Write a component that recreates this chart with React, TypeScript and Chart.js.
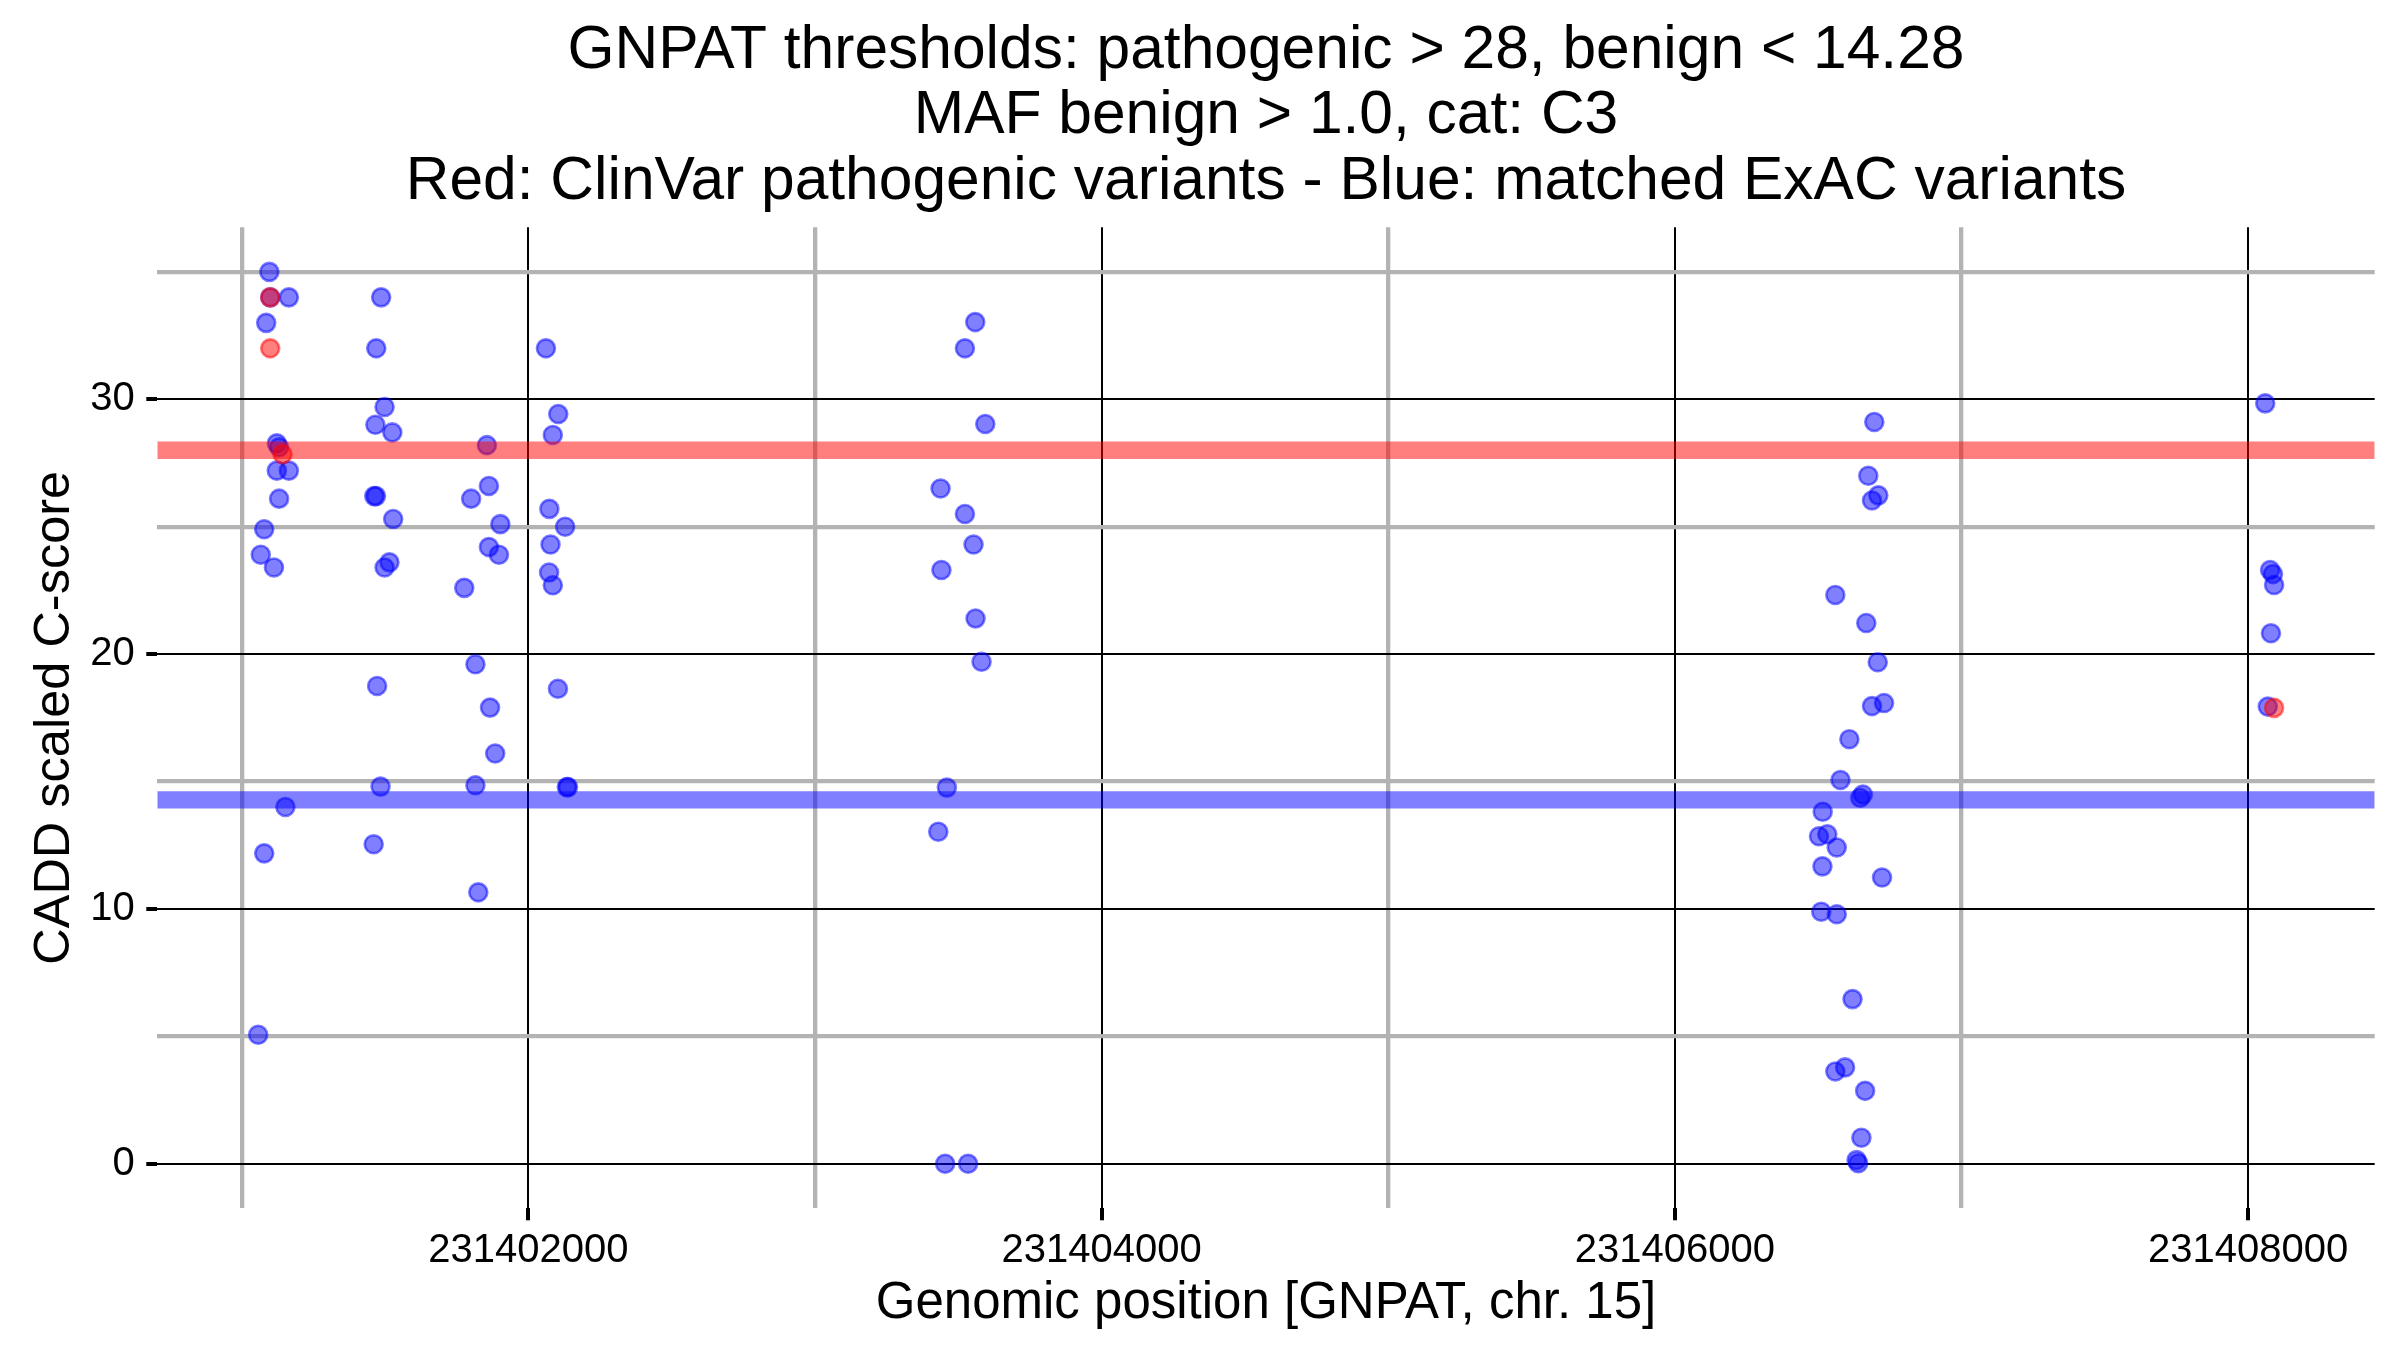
import React, { useEffect, useRef } from "react";
import { Chart, registerables } from "chart.js";

Chart.register(...registerables);

// ---- Data ----
const titleLines = [
  "GNPAT thresholds: pathogenic > 28, benign < 14.28",
  "MAF benign > 1.0, cat: C3",
  "Red: ClinVar pathogenic variants - Blue: matched ExAC variants",
];
const xAxisTitle = "Genomic position [GNPAT, chr. 15]";
const yAxisTitle = "CADD scaled C-score";

const pathogenicThreshold = 28;
const benignThreshold = 14.28;

// Blue: matched ExAC variants
const exacPos = [
  231401096, 231401099, 231401164, 231401085, 231401122, 231401130, 231401122, 231401164,
  231401130, 231401078, 231401066, 231401112, 231401152, 231401078, 231401057,
  231401486, 231401469, 231401498, 231401466, 231401525, 231401462, 231401468, 231401528,
  231401515, 231401498, 231401472, 231401484, 231401460,
  231401855, 231401862, 231401800, 231401902, 231401862, 231401897, 231401776, 231401815,
  231401866, 231401884, 231401815, 231401825,
  231402061, 231402104, 231402085, 231402073, 231402128, 231402077, 231402072, 231402085,
  231402103, 231402134, 231402138,
  231403559, 231403523, 231403594, 231403438, 231403523, 231403553, 231403441, 231403560,
  231403581, 231403460, 231403430, 231403454, 231403534,
  231406696, 231406675, 231406710, 231406688, 231406560, 231406668, 231406708, 231406688,
  231406730, 231406609, 231406578, 231406647, 231406656, 231406516, 231406503, 231406532,
  231406565, 231406515, 231406723, 231406511, 231406565, 231406620, 231406560, 231406594,
  231406664, 231406651, 231406634, 231406640,
  231408060, 231408077, 231408087, 231408091, 231408080, 231408069,
];
const exacScore = [
  35.0, 34.0, 34.0, 33.0, 28.27, 28.12, 27.2, 27.2,
  26.1, 24.9, 23.9, 23.4, 14.0, 12.18, 5.06,
  34.0, 32.0, 29.7, 29.0, 28.7, 26.2, 26.2, 25.3,
  23.6, 23.4, 18.75, 14.8, 12.54,
  28.2, 26.6, 26.1, 25.1, 24.2, 23.9, 22.6, 19.6,
  17.9, 16.1, 14.85, 10.65,
  32.0, 29.42, 28.6, 25.7, 25.0, 24.3, 23.2, 22.7,
  18.64, 14.78, 14.78,
  33.03, 32.0, 29.03, 26.5, 25.5, 24.3, 23.3, 21.4,
  19.7, 14.76, 13.03, 0.0, 0.0,
  29.11, 27.0, 26.23, 26.03, 22.32, 21.22, 19.68, 17.96,
  18.08, 16.66, 15.06, 14.36, 14.49, 13.81, 12.85, 12.93,
  12.41, 11.67, 11.23, 9.89, 9.79, 6.46, 3.62, 3.78,
  2.86, 1.02, 0.14, 0.02,
  29.84, 23.3, 23.14, 22.71, 20.82, 17.94,
];

// Red: ClinVar pathogenic variants
const clinvarPos = [231401099, 231401099, 231401142, 231408091];
const clinvarScore = [34.0, 32.0, 27.84, 17.89];

// Axes
const xLimits = [231400705, 231408442];
const yLimits = [-1.75, 36.75];
const xTicks = [231401000, 231402000, 231403000, 231404000, 231405000, 231406000, 231407000, 231408000];
const xMajorTicks = [231402000, 231404000, 231406000, 231408000];
const yTicks = [0, 5, 10, 15, 20, 25, 30, 35];
const yMajorTicks = [0, 10, 20, 30];

const FONT = "'Liberation Sans', Arial, Helvetica, sans-serif";

function gridOptions(major: number[], tickLength: number) {
  const isMajor = (ctx: any) => ctx && ctx.tick && major.includes(ctx.tick.value);
  return {
    display: true,
    drawOnChartArea: true,
    drawTicks: true,
    color: (ctx: any) => (isMajor(ctx) ? "#000000" : "#b3b3b3"),
    lineWidth: (ctx: any) => (isMajor(ctx) ? 2 : 4.3),
    tickColor: (ctx: any) => (isMajor(ctx) ? "#000000" : "rgba(0,0,0,0)"),
    tickWidth: 4,
    tickLength,
  };
}

export default function App() {
  const canvasRef = useRef<HTMLCanvasElement | null>(null);

  useEffect(() => {
    if (!canvasRef.current) return;
    const exacData = exacPos.map((x, i) => ({ x, y: exacScore[i] }));
    const clinvarData = clinvarPos.map((x, i) => ({ x, y: clinvarScore[i] }));
    const pathLine = [
      { x: xLimits[0], y: pathogenicThreshold },
      { x: xLimits[1], y: pathogenicThreshold },
    ];
    const benignLine = [
      { x: xLimits[0], y: benignThreshold },
      { x: xLimits[1], y: benignThreshold },
    ];

    const chart = new Chart(canvasRef.current, {
      type: "scatter",
      data: {
        datasets: [
          {
            type: "line",
            label: "pathogenic threshold",
            data: pathLine,
            borderColor: "rgba(255,0,0,0.5)",
            backgroundColor: "rgba(255,0,0,0.5)",
            borderWidth: 17.3,
            pointRadius: 0,
            fill: false,
            order: 0,
          } as any,
          {
            type: "line",
            label: "benign threshold",
            data: benignLine,
            borderColor: "rgba(0,0,255,0.5)",
            backgroundColor: "rgba(0,0,255,0.5)",
            borderWidth: 17.3,
            pointRadius: 0,
            fill: false,
            order: 0,
          } as any,
          {
            label: "ClinVar pathogenic variants",
            data: clinvarData,
            backgroundColor: "rgba(255,0,0,0.5)",
            borderColor: "rgba(255,0,0,0.5)",
            borderWidth: 2.6,
            pointRadius: 9,
            pointHoverRadius: 9,
            order: 1,
          },
          {
            label: "matched ExAC variants",
            data: exacData,
            backgroundColor: "rgba(0,0,255,0.5)",
            borderColor: "rgba(0,0,255,0.5)",
            borderWidth: 2.6,
            pointRadius: 9,
            pointHoverRadius: 9,
            order: 2,
          },
        ],
      },
      options: {
        animation: false,
        responsive: true,
        maintainAspectRatio: false,
        devicePixelRatio: 1,
        events: [],
        layout: { padding: { top: 18.5, left: 0, right: 25.3, bottom: 0 } },
        plugins: {
          legend: { display: false },
          tooltip: { enabled: false },
          title: {
            display: true,
            text: titleLines,
            fullSize: false,
            color: "#000000",
            font: { family: FONT, size: 60.5, weight: "normal", lineHeight: "65.5px" },
            padding: { top: 0, bottom: 12.3 },
          },
        },
        scales: {
          x: {
            type: "linear",
            min: xLimits[0],
            max: xLimits[1],
            afterBuildTicks: (s: any) => {
              s.ticks = xTicks.map((v) => ({ value: v }));
            },
            afterFit: (s: any) => {
              s.height = 141.7;
            },
            border: { display: false },
            grid: gridOptions(xMajorTicks, 12) as any,
            ticks: {
              autoSkip: false,
              maxRotation: 0,
              minRotation: 0,
              padding: 7,
              color: "#000000",
              font: { family: FONT, size: 40 },
              callback: (v: any) => (xMajorTicks.includes(Number(v)) ? String(v) : ""),
            },
            title: {
              display: true,
              text: xAxisTitle,
              color: "#000000",
              font: { family: FONT, size: 51 },
              padding: { top: 0, bottom: 15 },
            },
          },
          y: {
            type: "linear",
            min: yLimits[0],
            max: yLimits[1],
            afterBuildTicks: (s: any) => {
              s.ticks = yTicks.map((v) => ({ value: v }));
            },
            afterFit: (s: any) => {
              s.width = 157.3;
            },
            border: { display: false },
            grid: gridOptions(yMajorTicks, 11) as any,
            ticks: {
              autoSkip: false,
              padding: 11.5,
              color: "#000000",
              font: { family: FONT, size: 40 },
              callback: (v: any) => (yMajorTicks.includes(Number(v)) ? String(v) : ""),
            },
            title: {
              display: true,
              text: yAxisTitle,
              color: "#000000",
              font: { family: FONT, size: 50.5 },
              padding: { top: 25, bottom: 0 },
            },
          },
        },
      },
    });
    return () => chart.destroy();
  }, []);

  return (
    <div style={{ position: "fixed", left: 0, top: 0, width: 2400, height: 1350, background: "#ffffff" }}>
      <canvas ref={canvasRef} />
    </div>
  );
}
